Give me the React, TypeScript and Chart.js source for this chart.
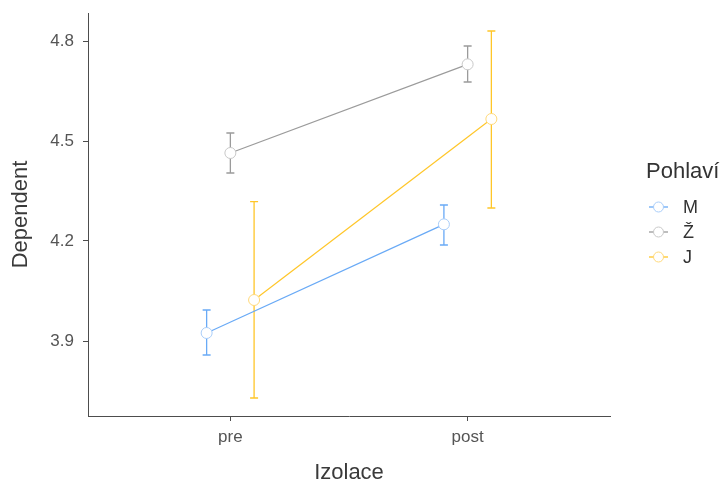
import React, { useEffect, useRef } from "react";
import { Chart, registerables } from "chart.js";

Chart.register(...registerables);

const categories = ["pre", "post"];
const seriesNames = ["M", "Ž", "J"];
const seriesColors = ["#69aaf6", "#9b9b9b", "#ffc629"];
const pointBorders = ["#a9cdf9", "#c8c8c8", "#ffd97a"];
const dodge = [-0.1, 0, 0.1];

const mMeans = [3.924, 4.25];
const mLower = [3.858, 4.188];
const mUpper = [3.993, 4.308];

const zMeans = [4.464, 4.73];
const zLower = [4.404, 4.677];
const zUpper = [4.524, 4.785];

const jMeans = [4.023, 4.566];
const jLower = [3.729, 4.299];
const jUpper = [4.318, 4.83];

const yTicks = [3.9, 4.2, 4.5, 4.8];

const means = [mMeans, zMeans, jMeans];
const lowers = [mLower, zLower, jLower];
const uppers = [mUpper, zUpper, jUpper];

const FONT = "'Liberation Sans', Arial, Helvetica, sans-serif";

const errorBarPlugin = {
  id: "errorBars",
  beforeDatasetsDraw(chart: any) {
    const ctx = chart.ctx;
    const xs = chart.scales.x;
    const ys = chart.scales.y;
    ctx.save();
    means.forEach((_, si) => {
      categories.forEach((_, ci) => {
        const x = xs.getPixelForValue(ci + 1 + dodge[si]);
        const yl = ys.getPixelForValue(lowers[si][ci]);
        const yu = ys.getPixelForValue(uppers[si][ci]);
        ctx.strokeStyle = seriesColors[si];
        ctx.lineWidth = 1.3;
        ctx.beginPath();
        ctx.moveTo(x, yl);
        ctx.lineTo(x, yu);
        ctx.moveTo(x - 4, yl);
        ctx.lineTo(x + 4, yl);
        ctx.moveTo(x - 4, yu);
        ctx.lineTo(x + 4, yu);
        ctx.stroke();
      });
    });
    ctx.restore();
  },
};

const legendPlugin = {
  id: "customLegend",
  afterDraw(chart: any) {
    const ctx = chart.ctx;
    ctx.save();
    ctx.fillStyle = "#333333";
    ctx.font = `22px ${FONT}`;
    ctx.textBaseline = "middle";
    ctx.textAlign = "left";
    ctx.fillText("Pohlaví", 646, 172);
    const rowY = [207, 232, 257];
    seriesNames.forEach((name, i) => {
      const y = rowY[i];
      ctx.strokeStyle = seriesColors[i];
      ctx.lineWidth = 1.3;
      ctx.beginPath();
      ctx.moveTo(649, y);
      ctx.lineTo(668, y);
      ctx.stroke();
      ctx.beginPath();
      ctx.arc(658.5, y, 5, 0, Math.PI * 2);
      ctx.fillStyle = "#ffffff";
      ctx.fill();
      ctx.strokeStyle = pointBorders[i];
      ctx.lineWidth = 1;
      ctx.stroke();
      ctx.fillStyle = "#333333";
      ctx.font = `18px ${FONT}`;
      ctx.fillText(name, 683, y + 1);
    });
    ctx.restore();
  },
};

export default function App() {
  const canvasRef = useRef<HTMLCanvasElement | null>(null);

  useEffect(() => {
    document.body.style.margin = "0";
    const canvas = canvasRef.current;
    if (!canvas) return;
    const datasets = seriesNames.map((name, si) => ({
      label: name,
      data: means[si].map((v, ci) => ({ x: ci + 1 + dodge[si], y: v })),
      borderColor: seriesColors[si],
      borderWidth: 1.2,
      pointRadius: 5.5,
      pointBackgroundColor: "#ffffff",
      pointBorderColor: pointBorders[si],
      pointBorderWidth: 1,
      tension: 0,
      fill: false,
    }));
    const chart = new Chart(canvas, {
      type: "line",
      data: { datasets },
      plugins: [errorBarPlugin, legendPlugin],
      options: {
        animation: false,
        responsive: false,
        maintainAspectRatio: false,
        devicePixelRatio: 1,
        layout: { padding: { top: 13, right: 115, left: 0, bottom: 0 } },
        plugins: { legend: { display: false }, tooltip: { enabled: false } },
        scales: {
          x: {
            type: "linear",
            min: 0.4,
            max: 2.6,
            afterBuildTicks: (scale: any) => {
              scale.ticks = categories.map((_, i) => ({ value: i + 1 }));
            },
            afterFit: (scale: any) => {
              scale.height = 67;
              scale.paddingLeft = 0;
              scale.paddingRight = 0;
            },
            ticks: {
              callback: (v: any) => categories[Math.round(Number(v)) - 1] ?? "",
              color: "#555555",
              font: { family: FONT, size: 17 },
              padding: 6,
              maxRotation: 0,
              autoSkip: false,
            },
            grid: {
              drawOnChartArea: false,
              drawTicks: true,
              tickLength: 5,
              color: "#4d4d4d",
              lineWidth: 1,
            },
            border: { display: true, color: "#4d4d4d", width: 1 },
            title: {
              display: true,
              text: "Izolace",
              color: "#3a3a3a",
              font: { family: FONT, size: 22, lineHeight: 0.8 },
              padding: { top: 0, bottom: 1 },
            },
          },
          y: {
            type: "linear",
            min: 3.675,
            max: 4.884,
            afterBuildTicks: (scale: any) => {
              scale.ticks = yTicks.map((v) => ({ value: v }));
            },
            afterFit: (scale: any) => {
              scale.width = 88;
              scale.paddingTop = 0;
              scale.paddingBottom = 0;
            },
            ticks: {
              callback: (v: any) => Number(v).toFixed(1),
              color: "#555555",
              font: { family: FONT, size: 17 },
              padding: 9,
            },
            grid: {
              drawOnChartArea: false,
              drawTicks: true,
              tickLength: 5,
              color: "#4d4d4d",
              lineWidth: 1,
            },
            border: { display: true, color: "#4d4d4d", width: 1 },
            title: {
              display: true,
              text: "Dependent",
              color: "#3a3a3a",
              font: { family: FONT, size: 22, lineHeight: 0.8 },
              padding: { top: 12, bottom: 0 },
            },
          },
        },
      } as any,
    });
    return () => chart.destroy();
  }, []);

  return (
    <div style={{ width: 725, height: 483, position: "relative" }}>
      <canvas ref={canvasRef} width={725} height={483} style={{ width: 725, height: 483, display: "block" }} />
    </div>
  );
}
